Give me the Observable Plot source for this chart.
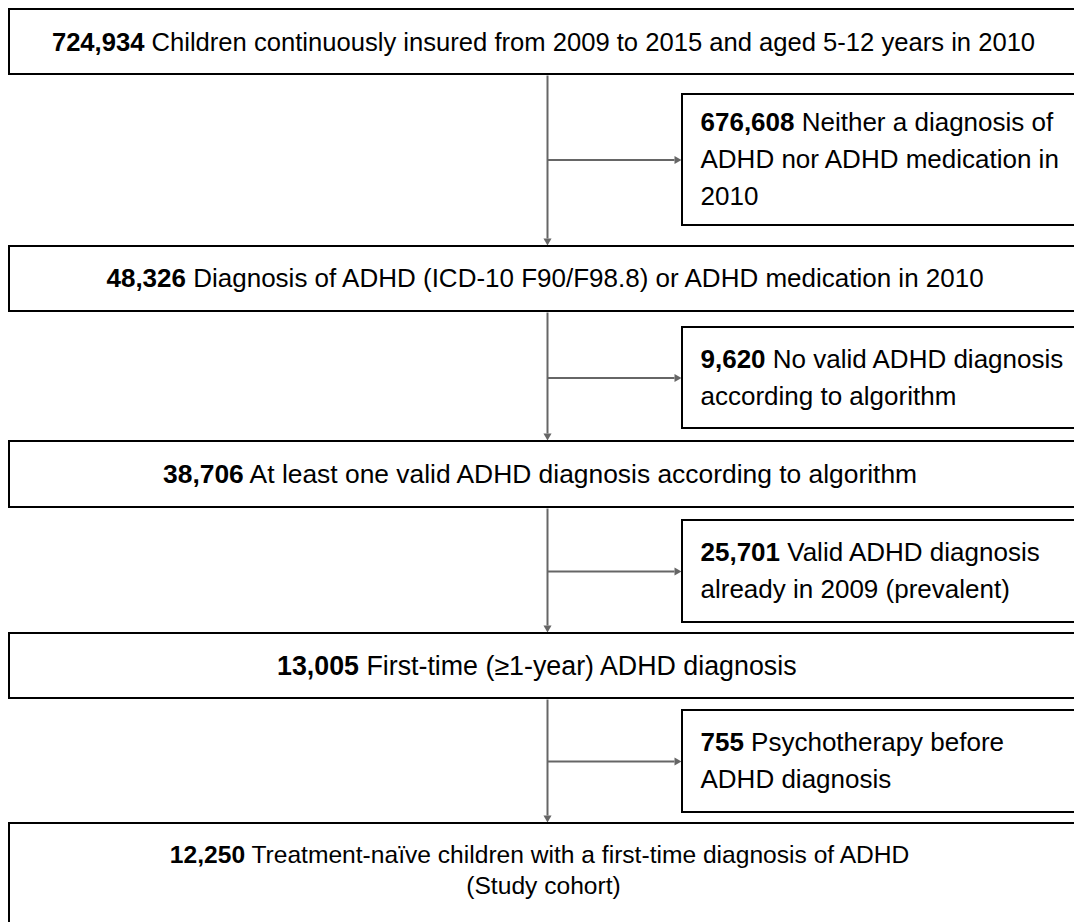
<!DOCTYPE html>
<html><head><meta charset="utf-8">
<script src="https://cdn.jsdelivr.net/npm/d3@7"></script>
<script src="https://cdn.jsdelivr.net/npm/@observablehq/plot@0.6"></script>
<style>html,body{margin:0;padding:0;background:#fff;overflow:hidden}</style>
</head><body><div id="chart"></div>
<script>
// ---- data ----
const mainCounts = ["724,934", "48,326", "38,706", "13,005", "12,250"];
const mainLabels = [
  ["Children continuously insured from 2009 to 2015 and aged 5-12 years in 2010"],
  ["Diagnosis of ADHD (ICD-10 F90/F98.8) or ADHD medication in 2010"],
  ["At least one valid ADHD diagnosis according to algorithm"],
  ["First-time (\u22651-year) ADHD diagnosis"],
  ["Treatment-na\u00efve children with a first-time diagnosis of ADHD", "(Study cohort)"]
];
const sideCounts = ["676,608", "9,620", "25,701", "755"];
const sideLabels = [
  ["Neither a diagnosis of", "ADHD nor ADHD medication in", "2010"],
  ["No valid ADHD diagnosis", "according to algorithm"],
  ["Valid ADHD diagnosis", "already in 2009 (prevalent)"],
  ["Psychotherapy before", "ADHD diagnosis"]
];

// ---- layout ----
const W = 1074, H = 922;
const FAM = "'Liberation Sans', Arial, Helvetica, sans-serif";
const mainFS = [25.6, 26, 26.4, 26.8, 24.6], sideFS = 26;
const mainTop = [9, 246, 441, 633, 823];
const mainBot = [74, 311, 507, 698, 940];
const mainTextCY = [42, 278.5, 474, 665.5, 870.5];
const mainTextCX = [543, 546, 541, 537, 540];
const boxX1 = 9, boxX2 = 1078;
const sideTop = [94, 327, 520, 710], sideBot = [225, 428, 622, 812];
const sideX1 = 682, sideX2 = 1090;
const stemX = 547, sideTextX = 700, sideLH = 37, mainLH = 31;
const headR = 3, tipOff = 2 * Math.sqrt(headR * headR * Math.PI / (3 * Math.sqrt(3))), baseOff = tipOff * 1.5;

const ctx = document.createElement("canvas").getContext("2d");
function tw(s, bold, fs) { ctx.font = `${bold ? "bold " : ""}${fs}px ${FAM}`; return ctx.measureText(s).width; }

const boxes = [];
mainTop.forEach((t, i) => boxes.push({x1: boxX1, x2: boxX2, y1: t, y2: mainBot[i]}));
sideTop.forEach((t, i) => boxes.push({x1: sideX1, x2: sideX2, y1: t, y2: sideBot[i]}));

const boldT = [], normT = [];
mainCounts.forEach((c, i) => {
  const lines = mainLabels[i];
  const n = lines.length, fs = mainFS[i], cx = mainTextCX[i];
  lines.forEach((l, k) => {
    const y = mainTextCY[i] + (k - (n - 1) / 2) * mainLH;
    if (k === 0) {
      const wb = tw(c, true, fs), wn = tw(" " + l, false, fs);
      const x0 = cx - (wb + wn) / 2;
      boldT.push({x: x0, y, text: c, fs});
      normT.push({x: x0 + wb, y, text: " " + l, fs});
    } else {
      normT.push({x: 543 - tw(l, false, fs) / 2, y, text: l, fs});
    }
  });
});
sideCounts.forEach((c, i) => {
  const lines = sideLabels[i];
  const n = lines.length, fs = sideFS;
  const cy = (sideTop[i] + sideBot[i]) / 2;
  lines.forEach((l, k) => {
    const y = cy + (k - (n - 1) / 2) * sideLH;
    if (k === 0) {
      const wb = tw(c, true, fs);
      boldT.push({x: sideTextX, y, text: c, fs});
      normT.push({x: sideTextX + wb, y, text: " " + l, fs});
    } else {
      normT.push({x: sideTextX, y, text: l, fs});
    }
  });
});

const links = [], heads = [];
for (let i = 0; i < mainTop.length - 1; i++) {
  const tipY = mainTop[i + 1] - 1;
  links.push({x1: stemX, y1: mainBot[i] + 1, x2: stemX, y2: tipY - baseOff});
  heads.push({x: stemX, y: tipY - tipOff, rot: 180});
  const cy = (sideTop[i] + sideBot[i]) / 2;
  const tipX = sideX1 - 1;
  links.push({x1: stemX, y1: cy, x2: tipX - baseOff, y2: cy});
  heads.push({x: tipX - tipOff, y: cy, rot: 90});
}

const textMarks = (data, bold) => d3.groups(data, d => d.fs).map(([fs, rows]) =>
  Plot.text(rows, {x: "x", y: "y", text: "text", textAnchor: "start", fontSize: fs, fontFamily: FAM,
    fontWeight: bold ? "bold" : "normal", fill: "#000"}));

const plot = Plot.plot({
  width: W, height: H, margin: 0,
  x: {domain: [0, W], range: [0, W], axis: null},
  y: {domain: [0, H], range: [0, H], axis: null},
  style: {background: "#fff"},
  marks: [
    Plot.link(links, {x1: "x1", y1: "y1", x2: "x2", y2: "y2", stroke: "#666", strokeWidth: 2}),
    Plot.dot(heads, {x: "x", y: "y", rotate: "rot", symbol: "triangle", r: headR, fill: "#666", stroke: "none"}),
    Plot.rect(boxes, {x1: "x1", x2: "x2", y1: "y1", y2: "y2", fill: "none", stroke: "#000", strokeWidth: 2}),
    ...textMarks(boldT, true),
    ...textMarks(normT, false)
  ]
});
document.getElementById("chart").appendChild(plot);
</script>
</body></html>
